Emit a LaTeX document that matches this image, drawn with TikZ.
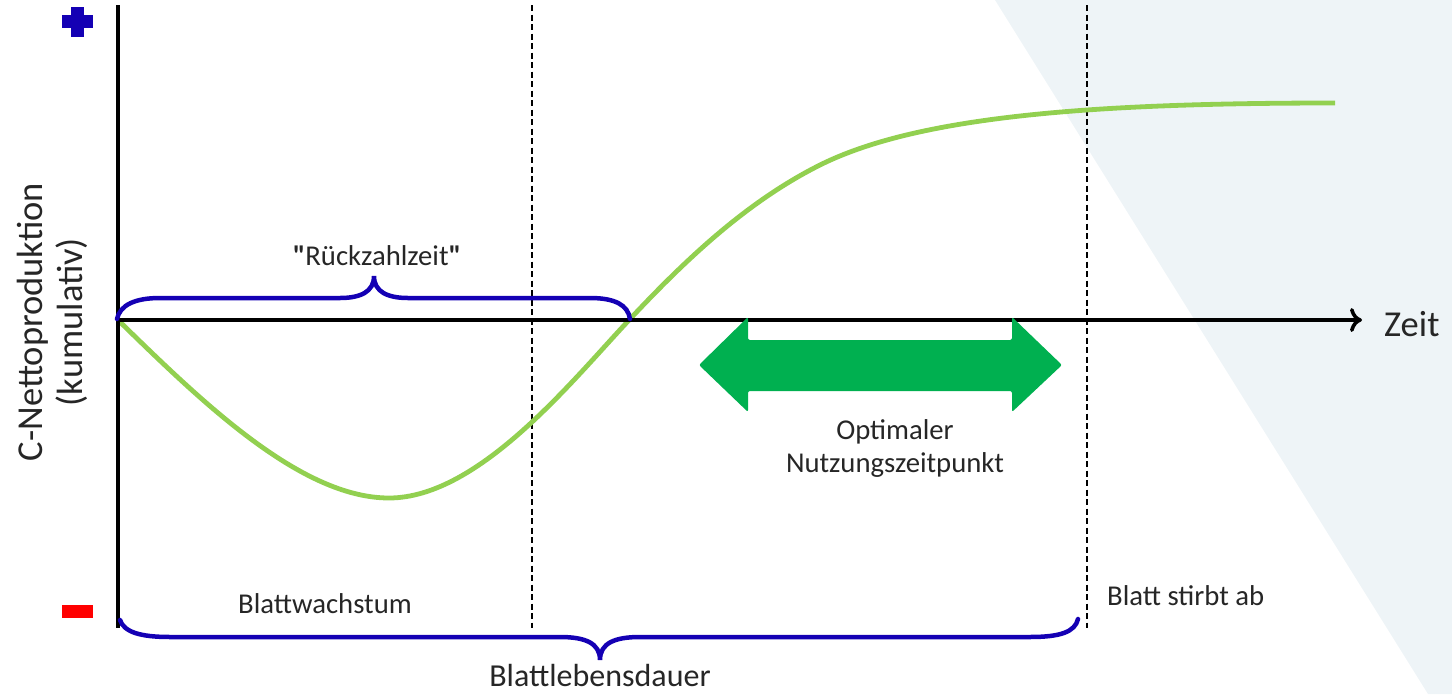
\documentclass[tikz,border=0pt]{standalone}
\usepackage{fontspec}
\setmainfont{Carlito}
\newfontfamily\qfont{Carlito}
\usetikzlibrary{arrows.meta}
\begin{document}
\begin{tikzpicture}[x=1pt,y=-1pt,
  txt/.style={text=textgray,inner sep=0pt},
  small/.style={txt,font=\fontsize{28.7}{33}\selectfont},
  mid/.style={txt,font=\fontsize{32}{36}\selectfont},
  big/.style={txt,font=\fontsize{36.5}{40}\selectfont},
  brace/.style={draw=braceblue,line width=4.5pt,line cap=round},
  vdash/.style={draw=black,line width=2pt,dash pattern=on 6pt off 3.5pt},
  axis/.style={draw=black,line width=3.6pt}]
\definecolor{textgray}{HTML}{262626}
\definecolor{braceblue}{RGB}{20,0,180}
\definecolor{curvegreen}{HTML}{92D050}
\definecolor{arrowgreen}{HTML}{00B050}
\definecolor{bgtri}{HTML}{EEF4F7}
\useasboundingbox (0,0) rectangle (1452,694);
% background triangle
\fill[bgtri] (995,0) -- (1452,0) -- (1452,694) -- (1428,694) -- cycle;
% plus and minus
\fill[braceblue] (71,7) rectangle (84,37);
\fill[braceblue] (62,15) rectangle (93,28);
\fill[red] (62,605) rectangle (93,618);
% coordinates
\coordinate (O) at (118,320);
\coordinate (ytop) at (118,5);
\coordinate (ybot) at (118,628);
\coordinate (xend) at (1362,320);
\coordinate (d1t) at (532,5);
\coordinate (d1b) at (532,628);
\coordinate (d2t) at (1087,5);
\coordinate (d2b) at (1087,628);
% dashed lines
\draw[vdash] (d1t) -- (d1b);
\draw[vdash] (d2t) -- (d2b);
% green curve
\coordinate (c0) at (118,320);
\coordinate (cmin) at (389,498);
\coordinate (czero) at (631,318);
\coordinate (cmid) at (820,165);
\coordinate (cend) at (1335,103);
\draw[curvegreen,line width=4.8pt] (c0) .. controls (200,400) and (300,498) .. (cmin)
  .. controls (480,498) and (575,377) .. (czero)
  .. controls (690,255) and (750,200) .. (cmid)
  .. controls (920,115) and (1100,103) .. (cend);
% axes
\draw[axis] (ytop) -- (ybot);
\draw[axis,-{To[length=12pt,width=24pt,line width=3.6pt]}] (O) -- (xend);
\node[big,anchor=west] (zeit) at (1384,324) {Zeit};
% y label
\node[big,rotate=90,align=center] (ylab) at (52,322) {C-Nettoproduktion\\(kumulativ)};
% top brace
\coordinate (tb1) at (117,319);
\coordinate (tb2) at (630,319);
\coordinate (tbtip) at (374,276);
\draw[brace] (tb1) .. controls (120,305) and (135,298) .. (160,298) -- (340,298) .. controls (360,298) and (374,292) .. (tbtip) .. controls (374,292) and (388,298) .. (408,298) -- (590,298) .. controls (615,298) and (628,305) .. (tb2);
\node[small] (rz) at (377,256) {{\qfont\bfseries"}Rückzahlzeit{\qfont\bfseries"}};
% bottom brace
\coordinate (bb1) at (120,620);
\coordinate (bb2) at (1078,619);
\coordinate (bbtip) at (600,660);
\draw[brace] (bb1) .. controls (124,632) and (140,637) .. (170,637) -- (560,637) .. controls (585,637) and (600,643) .. (bbtip) .. controls (600,643) and (615,637) .. (640,637) -- (1030,637) .. controls (1060,637) and (1075,632) .. (bb2);
\node[mid,anchor=base] (bld) at (600,686) {Blattlebensdauer};
\node[small] (bw) at (325,604) {Blattwachstum};
\node[small,anchor=west] (bs) at (1107,596) {Blatt stirbt ab};
% green double arrow
\fill[arrowgreen,rounded corners=2pt] (699,365) -- (748,317) -- (748,340) -- (1012,340) -- (1012,317) -- (1062,365) -- (1012,412) -- (1012,391) -- (748,391) -- (748,412) -- cycle;
\node[small,align=center] (opt) at (895,448) {Optimaler\\Nutzungszeitpunkt};
\end{tikzpicture}
\end{document}
